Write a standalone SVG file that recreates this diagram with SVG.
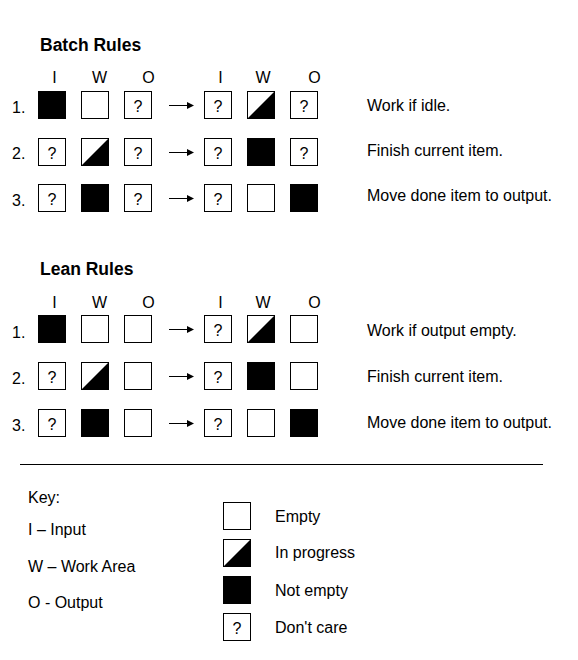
<svg xmlns="http://www.w3.org/2000/svg" xmlns:xlink="http://www.w3.org/1999/xlink" width="578" height="660" viewBox="0 0 578 660">
<style>
text{font-family:"Liberation Sans",Arial,sans-serif;font-size:16px;fill:#000}
.title{font-size:17.5px;font-weight:bold}
.hd{text-anchor:middle}
.q{text-anchor:middle;font-size:16px}
.box{fill:#fff;stroke:#000;stroke-width:1}
.full{fill:#000}
.arr{stroke:#000;stroke-width:1;fill:none}
</style>
<defs>
<g id="empty"><rect x="0.5" y="0.5" width="27" height="27" class="box"/></g>
<g id="full"><rect x="0.5" y="0.5" width="27" height="27" class="box full"/></g>
<g id="prog"><rect x="0.5" y="0.5" width="27" height="27" class="box"/><path d="M0.5,27.5 L27.5,0.5 L27.5,27.5 Z" fill="#000"/></g>
<marker id="ah" markerUnits="userSpaceOnUse" markerWidth="8" markerHeight="8" refX="0" refY="3.5" orient="auto"><path d="M0,0 L7,3.5 L0,7 Z" fill="#000"/></marker>
</defs>
<rect width="578" height="660" fill="#fff"/>

<g id="batch-section">
<text class="title" x="40" y="51">Batch Rules</text>
<g id="batch-headers">
<text class="hd" x="54.5" y="83">I</text><text class="hd" x="99.5" y="83">W</text><text class="hd" x="148.5" y="83">O</text>
<text class="hd" x="220.5" y="83">I</text><text class="hd" x="263" y="83">W</text><text class="hd" x="314.5" y="83">O</text>
</g>
<text x="12" y="113">1.</text><text x="12" y="159">2.</text><text x="12" y="206">3.</text>
<text x="367" y="111">Work if idle.</text>
<text x="367" y="156">Finish current item.</text>
<text x="367" y="201">Move done item to output.</text>
</g>

<g id="b1-before-I"><use xlink:href="#full" x="38" y="91"/></g>
<g id="b1-before-W"><use xlink:href="#empty" x="81" y="91"/></g>
<g id="b1-before-O"><use xlink:href="#empty" x="124" y="91"/><text class="q" x="138" y="112">?</text></g>
<g id="b1-after-I"><use xlink:href="#empty" x="204" y="91"/><text class="q" x="218" y="112">?</text></g>
<g id="b1-after-W"><use xlink:href="#prog" x="247" y="91"/></g>
<g id="b1-after-O"><use xlink:href="#empty" x="290" y="91"/><text class="q" x="304" y="112">?</text></g>

<g id="b2-before-I"><use xlink:href="#empty" x="38" y="138"/><text class="q" x="52" y="159">?</text></g>
<g id="b2-before-W"><use xlink:href="#prog" x="81" y="138"/></g>
<g id="b2-before-O"><use xlink:href="#empty" x="124" y="138"/><text class="q" x="138" y="159">?</text></g>
<g id="b2-after-I"><use xlink:href="#empty" x="204" y="138"/><text class="q" x="218" y="159">?</text></g>
<g id="b2-after-W"><use xlink:href="#full" x="247" y="138"/></g>
<g id="b2-after-O"><use xlink:href="#empty" x="290" y="138"/><text class="q" x="304" y="159">?</text></g>

<g id="b3-before-I"><use xlink:href="#empty" x="38" y="184"/><text class="q" x="52" y="205">?</text></g>
<g id="b3-before-W"><use xlink:href="#full" x="81" y="184"/></g>
<g id="b3-before-O"><use xlink:href="#empty" x="124" y="184"/><text class="q" x="138" y="205">?</text></g>
<g id="b3-after-I"><use xlink:href="#empty" x="204" y="184"/><text class="q" x="218" y="205">?</text></g>
<g id="b3-after-W"><use xlink:href="#empty" x="247" y="184"/></g>
<g id="b3-after-O"><use xlink:href="#full" x="290" y="184"/></g>

<g id="lean-section">
<text class="title" x="40" y="275">Lean Rules</text>
<g id="lean-headers">
<text class="hd" x="54.5" y="308">I</text><text class="hd" x="99.5" y="308">W</text><text class="hd" x="148.5" y="308">O</text>
<text class="hd" x="220.5" y="308">I</text><text class="hd" x="263" y="308">W</text><text class="hd" x="314.5" y="308">O</text>
</g>
<text x="12" y="338">1.</text><text x="12" y="384">2.</text><text x="12" y="431">3.</text>
<text x="367" y="336">Work if output empty.</text>
<text x="367" y="382">Finish current item.</text>
<text x="367" y="428">Move done item to output.</text>
</g>

<g id="l1-before-I"><use xlink:href="#full" x="38" y="315"/></g>
<g id="l1-before-W"><use xlink:href="#empty" x="81" y="315"/></g>
<g id="l1-before-O"><use xlink:href="#empty" x="124" y="315"/></g>
<g id="l1-after-I"><use xlink:href="#empty" x="204" y="315"/><text class="q" x="218" y="336">?</text></g>
<g id="l1-after-W"><use xlink:href="#prog" x="247" y="315"/></g>
<g id="l1-after-O"><use xlink:href="#empty" x="290" y="315"/></g>

<g id="l2-before-I"><use xlink:href="#empty" x="38" y="362"/><text class="q" x="52" y="383">?</text></g>
<g id="l2-before-W"><use xlink:href="#prog" x="81" y="362"/></g>
<g id="l2-before-O"><use xlink:href="#empty" x="124" y="362"/></g>
<g id="l2-after-I"><use xlink:href="#empty" x="204" y="362"/><text class="q" x="218" y="383">?</text></g>
<g id="l2-after-W"><use xlink:href="#full" x="247" y="362"/></g>
<g id="l2-after-O"><use xlink:href="#empty" x="290" y="362"/></g>

<g id="l3-before-I"><use xlink:href="#empty" x="38" y="409"/><text class="q" x="52" y="430">?</text></g>
<g id="l3-before-W"><use xlink:href="#full" x="81" y="409"/></g>
<g id="l3-before-O"><use xlink:href="#empty" x="124" y="409"/></g>
<g id="l3-after-I"><use xlink:href="#empty" x="204" y="409"/><text class="q" x="218" y="430">?</text></g>
<g id="l3-after-W"><use xlink:href="#empty" x="247" y="409"/></g>
<g id="l3-after-O"><use xlink:href="#full" x="290" y="409"/></g>

<g id="connectors">
<line class="arr" x1="169" y1="105.5" x2="187" y2="105.5" marker-end="url(#ah)"/>
<line class="arr" x1="169" y1="152.5" x2="187" y2="152.5" marker-end="url(#ah)"/>
<line class="arr" x1="169" y1="198.5" x2="187" y2="198.5" marker-end="url(#ah)"/>
<line class="arr" x1="169" y1="329.5" x2="187" y2="329.5" marker-end="url(#ah)"/>
<line class="arr" x1="169" y1="376.5" x2="187" y2="376.5" marker-end="url(#ah)"/>
<line class="arr" x1="169" y1="423.5" x2="187" y2="423.5" marker-end="url(#ah)"/>
</g>

<line id="divider" x1="20" y1="464.5" x2="543" y2="464.5" stroke="#000" stroke-width="1"/>

<g id="key">
<text x="28" y="503">Key:</text>
<text x="28" y="535">I – Input</text>
<text x="28" y="572">W – Work Area</text>
<text x="28" y="608">O - Output</text>
<g id="key-empty"><use xlink:href="#empty" x="223" y="502"/><text x="275" y="522">Empty</text></g>
<g id="key-progress"><use xlink:href="#prog" x="223" y="539"/><text x="275" y="558">In progress</text></g>
<g id="key-full"><use xlink:href="#full" x="223" y="576"/><text x="275" y="596">Not empty</text></g>
<g id="key-care"><use xlink:href="#empty" x="223" y="613"/><text class="q" x="237" y="634">?</text><text x="275" y="633">Don't care</text></g>
</g>
</svg>
